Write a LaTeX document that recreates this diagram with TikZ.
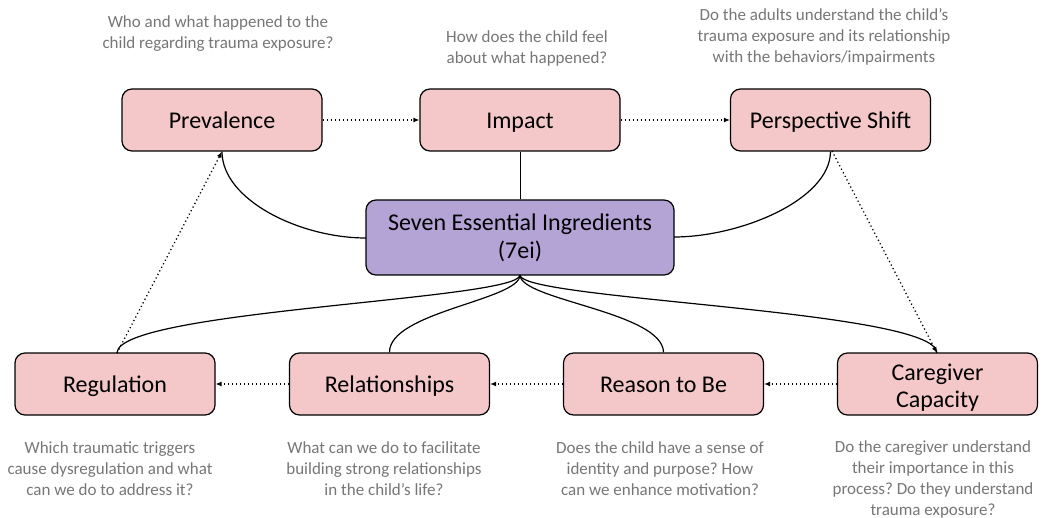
\documentclass[tikz,border=0pt]{standalone}
\usepackage{fontspec}
\setmainfont{Carlito}
\usetikzlibrary{arrows.meta}
\definecolor{boxpink}{RGB}{244,199,201}
\definecolor{boxpurple}{RGB}{180,164,214}
\definecolor{annot}{RGB}{118,118,118}
\frenchspacing
\begin{document}
\begin{tikzpicture}[x=1pt,y=-1pt,
  box/.style={draw=black,line width=1.2pt,rounded corners=10pt,fill=boxpink,
    minimum width=200pt,minimum height=62pt,inner sep=0pt,align=center,
    font=\fontsize{24}{27}\selectfont},
  one/.style={text height=17pt,text depth=0pt},
  hub/.style={box,fill=boxpurple,minimum width=308pt,minimum height=75pt,
    font=\fontsize{24}{28}\selectfont},
  label/.style={align=center,inner sep=0pt,font=\fontsize{24}{27}\selectfont},
  note/.style={align=center,text=annot,inner sep=0pt,font=\fontsize{17}{21}\selectfont},
  flow/.style={line width=1.3pt,dash pattern=on 1.2pt off 2.8pt,
    -{Latex[length=6pt,width=5pt]}},
  tie/.style={line width=1.2pt}]
\useasboundingbox (0,0) rectangle (1043,518);
% boxes
\node[box,one] (prev) at (222,120) {Prevalence};
\node[box,one] (imp) at (520,120) {Impact};
\node[box,one] (pers) at (830.5,120) {Perspective Shift};
\node[hub] (hub) at (520,237.5) {Seven Essential Ingredients\\(7ei)};
\node[box,one] (reg) at (115,384) {Regulation};
\node[box,one] (rel) at (389.5,384) {Relationships};
\node[box,one] (rea) at (663.5,384) {Reason to Be};
\node[box] (care) at (937.5,384) {};
\node[label] (caretext) at (937.5,388) {Caregiver\\Capacity};
% notes
\node[note] (nprev) at (218,34) {Who and what happened to the\\child regarding trauma exposure?};
\node[note] (nimp) at (527,48) {How does the child feel\\about what happened?};
\node[note] (npers) at (824,37) {Do the adults understand the child’s\\trauma exposure and its relationship\\with the behaviors/impairments};
\node[note] (nreg) at (110,469) {Which traumatic triggers\\cause dysregulation and what\\can we do to address it?};
\node[note] (nrel) at (384,469) {What can we do to facilitate\\building strong relationships\\in the child’s life?};
\node[note] (nrea) at (660,469) {Does the child have a sense of\\identity and purpose? How\\can we enhance motivation?};
\node[note] (ncare) at (933,479) {Do the caregiver understand\\their importance in this\\process? Do they understand\\trauma exposure?};
% anchors for connectors
\coordinate (hubS) at (520,275);
\coordinate (hubW) at (366,238);
\coordinate (hubE) at (674,237);
\coordinate (regN) at (117,353);
\coordinate (persS) at (832,151);
\coordinate (careN) at (937,353);
% solid ties
\draw[tie,line width=1pt] (hub.north) -- (imp.south);
\draw[tie] (hubW) .. controls (300,238) and (222,200) .. (prev.south);
\draw[tie] (hubE) .. controls (740,237) and (830,200) .. (pers.south);
\draw[tie] (hubS) .. controls (520,300) and (117,310) .. (regN);
\draw[tie] (hubS) .. controls (520,300) and (389,312) .. (rel.north);
\draw[tie] (hubS) .. controls (520,300) and (663,312) .. (rea.north);
\draw[tie] (hubS) .. controls (520,300) and (937,310) .. (careN);
% dotted flow
\draw[flow] (prev.east) -- (imp.west);
\draw[flow] (imp.east) -- (pers.west);
\draw[flow] (persS) -- (careN);
\draw[flow] (care.west) -- (rea.east);
\draw[flow] (rea.west) -- (rel.east);
\draw[flow] (rel.west) -- (reg.east);
\draw[flow] (regN) -- (prev.south);
\end{tikzpicture}
\end{document}
